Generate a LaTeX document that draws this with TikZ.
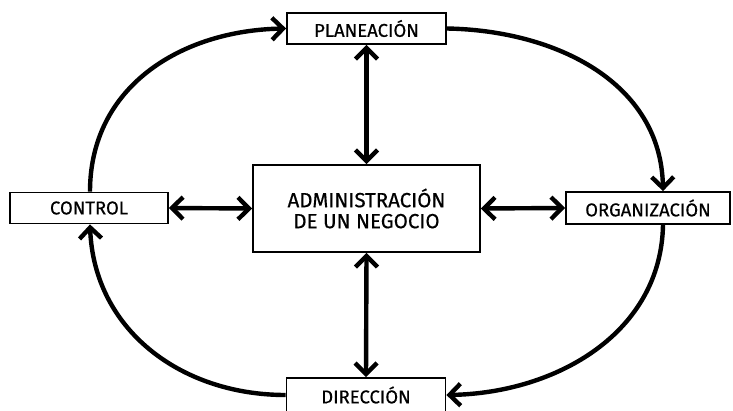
\documentclass[tikz,border=0pt]{standalone}
\usepackage{fontspec}
\setmainfont{Fira Sans}
\newfontfamily\boxfont[FakeBold=0.5]{Fira Sans}
\usetikzlibrary{arrows.meta,calc}
\begin{document}
\begin{tikzpicture}[x=1pt,y=1pt,
  box/.style={draw=black,line width=1.8pt,fill=white,inner sep=0pt,align=center,
    font=\boxfont\fontsize{18.5}{20}\selectfont},
  tip/.tip={Straight Barb[length=11pt,width=22pt,line width=4.4pt]},
  conn/.style={line width=4.4pt,-tip},
  dconn/.style={line width=4.4pt,tip-tip}
]
\useasboundingbox (0,0) rectangle (733,410);
\node[box,minimum width=159pt,minimum height=31pt] (plan) at (366.5,381.5) {PLANEACIÓN};
\node[box,minimum width=158pt,minimum height=31pt] (ctrl) at (89,202) {CONTROL};
\node[box,minimum width=227pt,minimum height=87pt,font=\boxfont\fontsize{20.5}{21}\selectfont] (admin) at (366.5,201.5) {ADMINISTRACIÓN\\DE UN NEGOCIO};
\node[box,minimum width=164pt,minimum height=32pt] (org) at (648,202) {ORGANIZACIÓN};
\node[box,minimum width=159pt,minimum height=34pt] (dir) at (366,15) {DIRECCIÓN};
\coordinate (ctop) at ([xshift=1pt]ctrl.north);
\coordinate (cbot) at ([xshift=1pt]ctrl.south);
\coordinate (otop) at ([xshift=15pt]org.north);
\coordinate (obot) at ([xshift=15pt]org.south);
\draw[conn] (ctop) .. controls +(0,105) and +(-105,-2) .. (plan.west);
\draw[conn] (plan.east) .. controls +(110,-2) and +(-2,108) .. (otop);
\draw[conn] (obot) .. controls +(-2,-108) and +(110,2) .. (dir.east);
\draw[conn] (dir.west) .. controls +(-105,0) and +(4,-105) .. (cbot);
\draw[dconn] (plan.south) -- (admin.north);
\draw[dconn] (admin.south) -- (dir.north);
\draw[dconn] (ctrl.east) -- (admin.west);
\draw[dconn] (admin.east) -- (org.west);
\end{tikzpicture}
\end{document}
